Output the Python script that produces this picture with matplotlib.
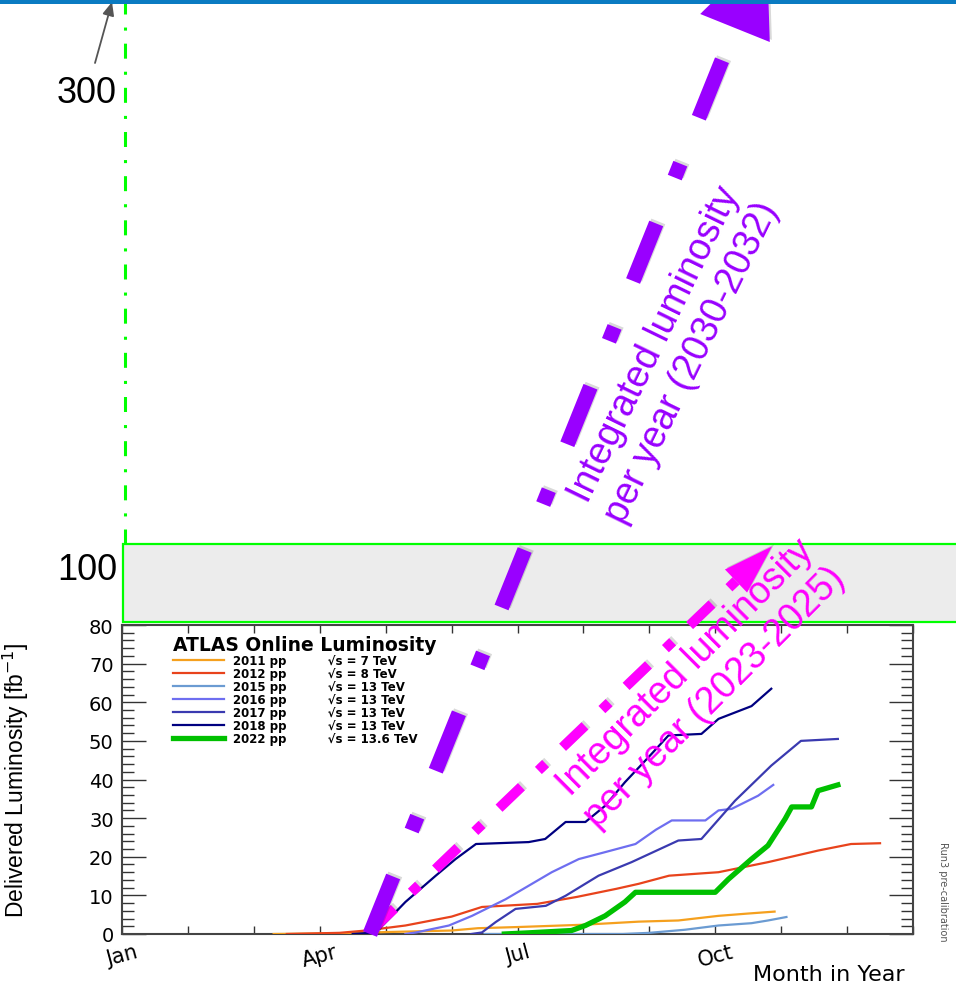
import numpy as np
import matplotlib
matplotlib.use('Agg')
import matplotlib.pyplot as plt
from matplotlib.patches import Rectangle, Polygon
import matplotlib.patheffects as pe

plt.rcParams['lines.scale_dashes'] = False

# ---------------- data (month of year, delivered luminosity fb^-1) ----------------
years = ['2011', '2012', '2015', '2016', '2017', '2018', '2022']
energies = ['7', '8', '13', '13', '13', '13', '13.6']
colors = ['#f5a01e', '#e8431c', '#6b9bd2', '#6e6ef0', '#3a3ab0', '#000080', '#00c000']

m2011 = [2.3, 3.5, 4.0, 5.0, 5.4, 6.0, 7.0, 7.84, 8.44, 9.05, 9.5, 9.9]
v2011 = [0.0, 0.2, 0.5, 0.9, 1.5, 1.8, 2.4, 3.2, 3.5, 4.7, 5.3, 5.8]
m2012 = [2.5, 3.3, 3.7, 4.3, 5.0, 5.46, 6.3, 6.9, 7.5, 7.84, 8.3, 9.05, 9.8, 10.56, 11.06, 11.5]
v2012 = [0.0, 0.3, 0.9, 2.2, 4.5, 7.0, 7.8, 9.6, 11.7, 13.0, 15.1, 16.0, 18.6, 21.6, 23.3, 23.5]
m2015 = [5.5, 7.6, 8.0, 8.54, 9.05, 9.55, 9.8, 10.08]
v2015 = [0.0, 0.0, 0.3, 1.1, 2.2, 2.8, 3.5, 4.4]
m2016 = [4.3, 4.46, 4.96, 5.31, 5.82, 6.52, 6.93, 7.33, 7.79, 8.1, 8.34, 8.85, 9.05, 9.25, 9.65, 9.88]
v2016 = [0.0, 0.4, 2.2, 4.7, 9.0, 16.0, 19.4, 21.2, 23.3, 27.0, 29.4, 29.4, 32.0, 32.4, 35.8, 38.6]
m2017 = [5.3, 5.46, 5.67, 5.97, 6.43, 6.73, 7.23, 7.73, 8.44, 8.79, 9.3, 9.85, 10.3, 10.86]
v2017 = [0.0, 0.4, 3.1, 6.5, 7.3, 9.9, 15.1, 18.6, 24.2, 24.6, 34.5, 43.6, 50.0, 50.5]
m2018 = [3.5, 3.85, 4.05, 4.3, 4.76, 5.06, 5.37, 6.17, 6.42, 6.73, 7.03, 7.33, 7.63, 8.0, 8.29, 8.79, 9.05, 9.55, 9.85]
v2018 = [0.0, 0.4, 3.9, 8.3, 15.1, 19.4, 23.3, 23.8, 24.6, 29.0, 29.0, 33.2, 39.3, 46.0, 51.4, 51.8, 55.7, 59.0, 63.5]
m2022 = [5.8, 6.17, 6.82, 7.03, 7.33, 7.63, 7.79, 9.0, 9.2, 9.55, 9.8, 10.06, 10.16, 10.46, 10.56, 10.86]
v2022 = [0.0, 0.3, 0.9, 2.2, 4.7, 8.3, 10.8, 10.8, 14.2, 19.4, 22.9, 29.8, 32.9, 32.9, 37.1, 38.6]

series_months = [m2011, m2012, m2015, m2016, m2017, m2018, m2022]
series_values = [v2011, v2012, v2015, v2016, v2017, v2018, v2022]

month_ticks = [0, 3, 6, 9]
month_labels = ['Jan', 'Apr', 'Jul', 'Oct']
scale_labels = ['100', '300']
text_2023 = 'Integrated luminosity\nper year (2023-2025)'
text_2030 = 'Integrated luminosity\nper year (2030-2032)'

# ---------------- figure ----------------
W, H = 956, 987
fig = plt.figure(figsize=(W / 100, H / 100), dpi=100)

ax = fig.add_axes([122 / W, (H - 935) / H, (913 - 122) / W, (935 - 626) / H])
for yr, e, c, m, v in zip(years, energies, colors, series_months, series_values):
    lw = 3.8 if yr == '2022' else 1.6
    ax.plot(m, v, color=c, lw=lw, label=f'{yr} pp          \u221as = {e} TeV', zorder=3)

ax.set_xlim(0, 12)
ax.set_ylim(0, 80)
ax.set_xticks(month_ticks)
ax.set_xticklabels(month_labels, rotation=15, ha='center')
ax.set_xticks(np.arange(0, 13), minor=True)
ax.set_yticks(np.arange(0, 81, 10))
ax.set_yticks(np.arange(0, 81, 2), minor=True)
ax.tick_params(axis='x', which='both', direction='in', top=True, length=6, width=1.0,
               pad=5, labelsize=15, colors='#333333', labelcolor='black')
ax.tick_params(axis='y', which='major', direction='in', right=True, length=17, width=1.0,
               pad=6, labelsize=14, colors='#333333', labelcolor='black')
ax.tick_params(axis='y', which='minor', direction='in', right=True, length=8.5, width=1.0,
               colors='#333333')
for s in ax.spines.values():
    s.set_linewidth(1.5)
    s.set_color('#444444')

ax.set_ylabel('Delivered Luminosity [fb$^{-1}$]', fontsize=16.5, family='Liberation Sans')
ax.yaxis.set_label_coords(-0.115, 0.5)
ax.set_xlabel('Month in Year', fontsize=16, loc='right')
ax.xaxis.set_label_coords(0.99, -0.098)

leg = ax.legend(loc='upper left', bbox_to_anchor=(0.0646, 0.968), frameon=False,
                prop=dict(family='DejaVu Sans', weight='bold', size=8.5),
                title='ATLAS Online Luminosity',
                title_fontproperties=dict(family='DejaVu Sans', weight='bold', size=13.5),
                alignment='left', labelspacing=0.0, handlelength=4.3, handletextpad=0.8,
                borderpad=0, borderaxespad=0)

ax.text(1.038, 0.139, 'Run3 pre-calibration', transform=ax.transAxes, rotation=270,
        ha='center', va='center', fontsize=7, color='#555555')

# ---------------- overlay annotations (pixel coordinates) ----------------
ov = fig.add_axes([0, 0, 1, 1])
ov.set_xlim(0, W)
ov.set_ylim(H, 0)
ov.axis('off')
ov.patch.set_visible(False)

ov.add_patch(Rectangle((123, 545), W, 78, fc='#ececec', ec='#00ff00', lw=1.6, zorder=1))
ov.plot([125, 125], [0, 545], color='#00ff00', lw=2.2,
        linestyle=(0, (10.8, 9.4, 2.2, 9.4)), zorder=2)

k = 72 / 100
shadow_line = [pe.SimpleLineShadow(offset=(1.5, 1.5), shadow_color='black', alpha=0.15), pe.Normal()]
shadow_patch = [pe.SimplePatchShadow(offset=(1.5, 1.5), shadow_rgbFace='black', alpha=0.15), pe.Normal()]


def dashed_arrow(start, end, color, lw_px, dash_px, gap_px, dot_px, head_w_px, head_len_px, z):
    s = np.array(start, float)
    e = np.array(end, float)
    u = (e - s) / np.linalg.norm(e - s)
    n = np.array([-u[1], u[0]])
    ov.plot([s[0], e[0]], [s[1], e[1]], color=color, lw=lw_px * k,
            dash_capstyle='butt', solid_capstyle='butt',
            linestyle=(0, (dash_px * k, gap_px * k, dot_px * k, gap_px * k)),
            path_effects=shadow_line, zorder=z)
    tip = e + u * head_len_px
    ov.add_patch(Polygon([e + n * head_w_px / 2, tip, e - n * head_w_px / 2], closed=True,
                         fc=color, ec='none', zorder=z, path_effects=shadow_patch))


dashed_arrow((372, 931), (736, 582), '#ff00ff', 10, 31, 23.5, 10, 32, 50, 3)
dashed_arrow((370, 935), (735, 29), '#9900ff', 15, 62, 49.5, 15, 75, 85, 4)

ov.text(700, 683, text_2023, rotation=45, rotation_mode='anchor', ha='center', va='center',
        multialignment='center', fontsize=27, family='Liberation Sans', color='#ff00ff',
        zorder=6)
ov.text(673, 354, text_2030, rotation=64, rotation_mode='anchor', ha='center', va='center',
        multialignment='center', fontsize=27, family='Liberation Sans', color='#9900ff',
        zorder=6)

ov.text(117, 580, scale_labels[0], ha='right', va='baseline', fontsize=26,
        family='Liberation Sans', color='black')
ov.text(117, 103, scale_labels[1], ha='right', va='baseline', fontsize=26,
        family='Liberation Sans', color='black')
ov.annotate('', xy=(112, 3), xytext=(95, 64),
            arrowprops=dict(arrowstyle='-|>,head_length=0.8,head_width=0.35',
                            color='#555555', lw=1.3, shrinkA=0, shrinkB=0))

ov.add_patch(Rectangle((0, 0), W, 5, fc='#0a7bc2', ec='none', zorder=10))

fig.savefig('out.png', dpi=100)
